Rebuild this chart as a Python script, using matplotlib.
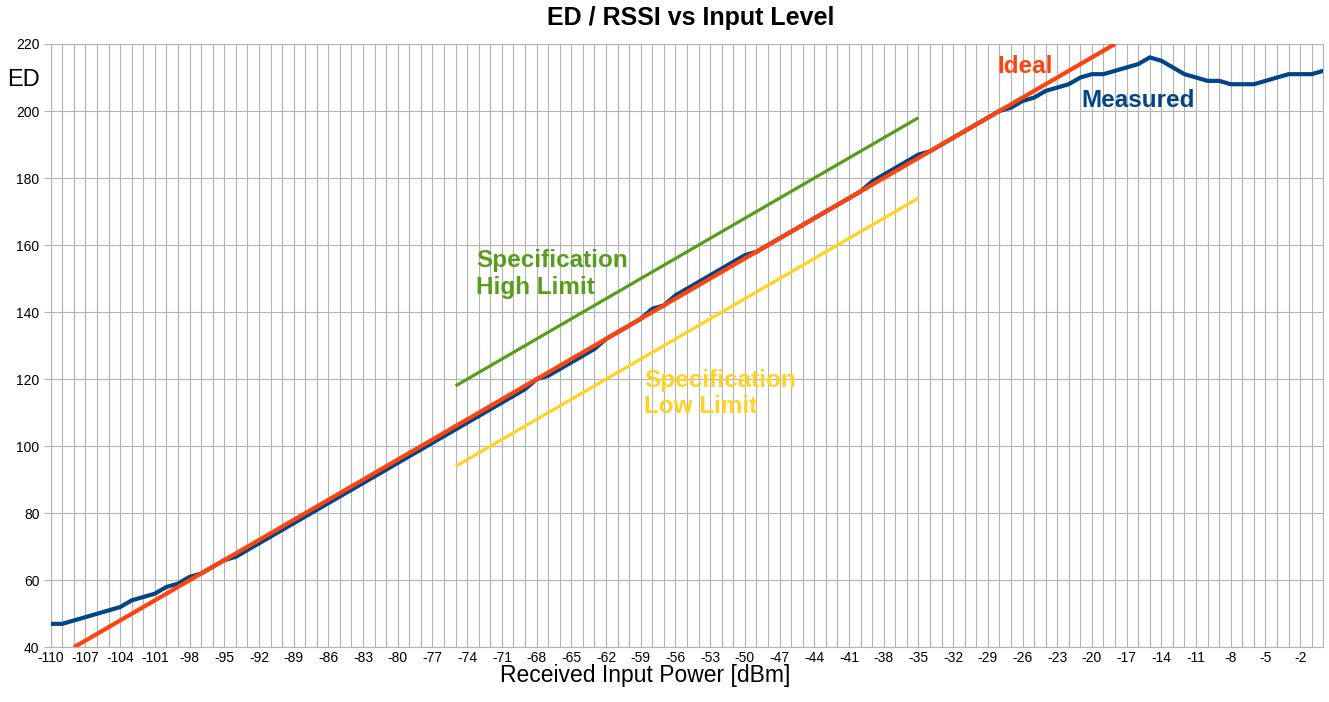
import numpy as np
import matplotlib
matplotlib.use('Agg')
import matplotlib.pyplot as plt

plt.rcParams.update({
    "font.family": ["Liberation Sans", "DejaVu Sans"],
})

# received input power [dBm], one point per dBm
power = list(range(-110, 1))

measured = [
    47, 47, 48, 49, 50, 51, 52, 54, 55, 56,          # -110 .. -101
    58, 59, 61, 62, 64, 66, 67, 69, 71, 73,          # -100 .. -91
    75, 77, 79, 81, 83, 85, 87, 89, 91, 93,          # -90 .. -81
    95, 97, 99, 101, 103, 105, 107, 109, 111, 113,   # -80 .. -71
    115, 117, 120, 121, 123, 125, 127, 129, 132, 134,  # -70 .. -61
    136, 138, 141, 142, 145, 147, 149, 151, 153, 155,  # -60 .. -51
    157, 158, 160, 162, 164, 166, 168, 170, 172, 174,  # -50 .. -41
    176, 179, 181, 183, 185, 187, 188, 190, 192, 194,  # -40 .. -31
    196, 198, 200, 201, 203, 204, 206, 207, 208, 210,  # -30 .. -21
    211, 211, 212, 213, 214, 216, 215, 213, 211, 210,  # -20 .. -11
    209, 209, 208, 208, 208, 209, 210, 211, 211, 211,  # -10 .. -1
    212,                                               # 0
]

ideal_power = [-108, -18]
ideal_ed = [40, 220]

spec_power = [-75, -35]
spec_high = [118, 198]
spec_low = [94, 174]

c_meas = '#004586'
c_ideal = '#ff420e'
c_high = '#579d1c'
c_low = '#ffd320'
c_grid = '#b3b3b3'

fig = plt.figure(figsize=(13.29, 7.02), dpi=100)
ax = fig.add_axes([50.7 / 1329, 1 - 647.3 / 702, (1323.3 - 50.7) / 1329, (647.3 - 44) / 702])

ax.plot(power, measured, color=c_meas, linewidth=3.0, zorder=3, solid_capstyle='butt')
ax.plot(spec_power, spec_high, color=c_high, linewidth=2.3, zorder=4, solid_capstyle='butt')
ax.plot(spec_power, spec_low, color=c_low, linewidth=2.3, zorder=4, solid_capstyle='butt')
ax.plot(ideal_power, ideal_ed, color=c_ideal, linewidth=3.0, zorder=5, solid_capstyle='butt')

ax.set_xlim(-110, 0)
ax.set_ylim(40, 220)

ax.set_xticks(power)
ax.set_xticklabels([str(p) if (p + 110) % 3 == 0 else '' for p in power])
ax.set_yticks(np.arange(40, 221, 20))
ax.tick_params(axis='x', length=0, pad=3, labelsize=10)
ax.tick_params(axis='y', length=5, width=0.8, color=c_grid, pad=3, labelsize=10)

ax.grid(True, color=c_grid, linewidth=0.8)
ax.set_axisbelow(True)
for s in ax.spines.values():
    s.set_color(c_grid)
    s.set_linewidth(0.8)

# series labels
tkw = dict(fontsize=17.5, fontweight='bold', ha='left', va='baseline', zorder=6)
ax.text(-28.15, 211.4, 'Ideal', color=c_ideal, **tkw)
ax.text(-20.9, 201.1, 'Measured', color=c_meas, **tkw)
ax.text(-73.24, 153.4, 'Specification', color=c_high, **tkw)
ax.text(-73.24, 145.4, 'High Limit', color=c_high, **tkw)
ax.text(-58.72, 117.7, 'Specification', color=c_low, **tkw)
ax.text(-58.72, 109.8, 'Low Limit', color=c_low, **tkw)

fig.text(691 / 1329, 1 - 18 / 702, 'ED / RSSI vs Input Level', fontsize=18,
         fontweight='bold', ha='center', va='center')
fig.text(645 / 1329, 1 - 682 / 702, 'Received Input Power [dBm]', fontsize=16.5,
         ha='center', va='baseline')
fig.text(7 / 1329, 1 - 86 / 702, 'ED', fontsize=17, ha='left', va='baseline')

fig.savefig('out.png', dpi=100)
